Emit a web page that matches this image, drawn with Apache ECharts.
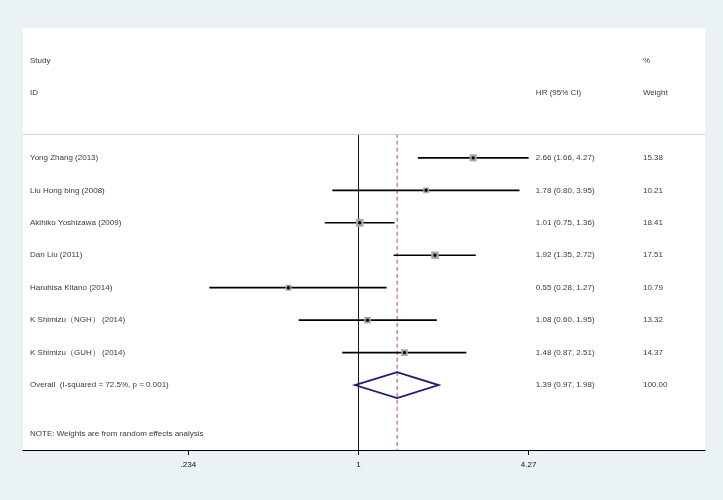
<!DOCTYPE html>
<html>
<head>
<meta charset="utf-8">
<script src="https://cdn.jsdelivr.net/npm/echarts@6/dist/echarts.min.js"></script>
<style>
html,body{margin:0;padding:0;background:#eaf2f3;}
#c{width:723px;height:500px;}
</style>
</head>
<body>
<div id="c"></div>
<script>
// ---- data ----
const studies = ["Yong Zhang (2013)", "Liu Hong bing (2008)", "Akihiko Yoshizawa (2009)", "Dan Liu (2011)", "Haruhisa Kitano (2014)", "K Shimizu（NGH） (2014)", "K Shimizu（GUH） (2014)"];
const hr = [2.66, 1.78, 1.01, 1.92, 0.55, 1.08, 1.48];
const ciLow = [1.66, 0.80, 0.75, 1.35, 0.28, 0.60, 0.87];
const ciHigh = [4.27, 3.95, 1.36, 2.72, 1.27, 1.95, 2.51];
const weights = ["15.38", "10.21", "18.41", "17.51", "10.79", "13.32", "14.37"];
const overallLabel = "Overall  (I-squared = 72.5%, p = 0.001)";
const overall = {hr: 1.39, lo: 0.97, hi: 1.98, weight: "100.00"};
const tickValues = [0.234, 1, 4.27];
const tickLabels = [".234", "1", "4.27"];
const headers = {study: "Study", id: "ID", hr: "HR (95% CI)", pct: "%", weight: "Weight"};
const note = "NOTE: Weights are from random effects analysis";
const xRange = [0.0571, 19.23];
const nullValue = 1;

const fmt = v => v.toFixed(2);
const hrText = hr.map((v, i) => `${fmt(v)} (${fmt(ciLow[i])}, ${fmt(ciHigh[i])})`);
const ovText = `${fmt(overall.hr)} (${fmt(overall.lo)}, ${fmt(overall.hi)})`;

const L = Math.log;
const FONT = 'Liberation Sans, Arial, sans-serif';
const TOP_ROW = -0.74, BOTTOM_ROW = 9;
const nRows = studies.length;

const rowData = studies.map((s, i) => [L(ciLow[i]), L(ciHigh[i]), L(hr[i]), i, parseFloat(weights[i])]);

// text items: [xFrac, row, text]
const col = {name: 0.0103, hr: 0.752, w: 0.909};
const textData = [];
textData.push([col.name, -3, headers.study]);
textData.push([col.name, -2, headers.id]);
textData.push([col.hr, -2, headers.hr]);
textData.push([col.w, -3, headers.pct]);
textData.push([col.w, -2, headers.weight]);
studies.forEach((s, i) => {
  textData.push([col.name, i, s]);
  textData.push([col.hr, i, hrText[i]]);
  textData.push([col.w, i, weights[i]]);
});
textData.push([col.name, nRows, overallLabel]);
textData.push([col.hr, nRows, ovText]);
textData.push([col.w, nRows, overall.weight]);
textData.push([col.name, nRows + 1.5, note]);

// reference lines: [x (ln), row from, row to, kind]
const refLines = [
  [L(nullValue), TOP_ROW, BOTTOM_ROW, 0],
  [L(overall.hr), TOP_ROW, BOTTOM_ROW, 1]
];

const chart = echarts.init(document.getElementById('c'), null, {renderer: 'canvas'});
chart.setOption({
  animation: false,
  backgroundColor: '#eaf2f3',
  grid: {left: 23, right: 18, top: 28, bottom: 50, show: true, backgroundColor: '#ffffff', borderWidth: 0},
  xAxis: [{
    type: 'value', min: L(xRange[0]), max: L(xRange[1]), position: 'bottom',
    axisLine: {show: true, onZero: false, lineStyle: {color: '#000', width: 1}},
    axisTick: {show: true, length: 5, inside: false, customValues: tickValues.map(L), lineStyle: {color: '#000'}},
    axisLabel: {show: true, customValues: tickValues.map(L), margin: 11, fontSize: 8, fontFamily: FONT, color: '#111',
      formatter: v => { let b = 0; tickValues.forEach((t, i) => { if (Math.abs(L(t) - v) < Math.abs(L(tickValues[b]) - v)) b = i; }); return tickLabels[b]; }},
    splitLine: {show: false}
  }, {
    type: 'value', min: 0, max: 1, show: false
  }],
  yAxis: {type: 'value', inverse: true, min: -4, max: BOTTOM_ROW, show: false, splitLine: {show: false}},
  series: [
    {
      type: 'line', data: [], xAxisIndex: 0, silent: true,
      markLine: {
        symbol: ['none', 'none'], silent: true, label: {show: false},
        lineStyle: {color: '#cfcfcf', width: 1, type: 'solid'},
        data: [{yAxis: TOP_ROW}]
      }
    },
    {
      type: 'custom', xAxisIndex: 0, data: refLines, encode: {x: 0, y: [1, 2]}, silent: true,
      renderItem: (params, api) => {
        const a = api.coord([api.value(0), api.value(1)]);
        const b = api.coord([api.value(0), api.value(2)]);
        const dashed = api.value(3) === 1;
        return {type: 'line', shape: {x1: a[0], y1: a[1], x2: b[0], y2: b[1]},
          style: dashed ? {stroke: '#c2405f', lineWidth: 1, lineDash: [4, 3]} : {stroke: '#111', lineWidth: 1}};
      }
    },
    {
      type: 'custom', xAxisIndex: 0, data: rowData, encode: {x: [0, 1, 2], y: 3}, silent: true,
      renderItem: (params, api) => {
        const a = api.coord([api.value(0), api.value(3)]);
        const b = api.coord([api.value(1), api.value(3)]);
        const c = api.coord([api.value(2), api.value(3)]);
        const s = 1.8 * Math.sqrt(api.value(4));
        return {type: 'group', children: [
          {type: 'line', shape: {x1: a[0], y1: a[1], x2: b[0], y2: b[1]}, style: {stroke: '#000', lineWidth: 1.7}},
          {type: 'rect', shape: {x: c[0] - s / 2, y: c[1] - s / 2, width: s, height: s}, style: {fill: '#a8a8a8'}},
          {type: 'circle', shape: {cx: c[0], cy: c[1], r: 1.7}, style: {fill: '#000'}}
        ]};
      }
    },
    {
      type: 'custom', xAxisIndex: 0, data: [[L(overall.lo), L(overall.hi), L(overall.hr), nRows]], encode: {x: [0, 1, 2], y: 3}, silent: true,
      renderItem: (params, api) => {
        const r = api.value(3), h = 0.4;
        const p1 = api.coord([api.value(0), r]);
        const p2 = api.coord([api.value(2), r - h]);
        const p3 = api.coord([api.value(1), r]);
        const p4 = api.coord([api.value(2), r + h]);
        return {type: 'polygon', shape: {points: [p1, p2, p3, p4]}, style: {fill: 'none', stroke: '#1c1c6e', lineWidth: 1.8}};
      }
    },
    {
      type: 'scatter', xAxisIndex: 1, data: textData, symbolSize: 0, silent: true,
      label: {show: true, position: 'right', distance: 0, formatter: p => p.data[2], fontSize: 8, fontFamily: FONT, color: '#000'}
    }
  ]
});
</script>
</body>
</html>
